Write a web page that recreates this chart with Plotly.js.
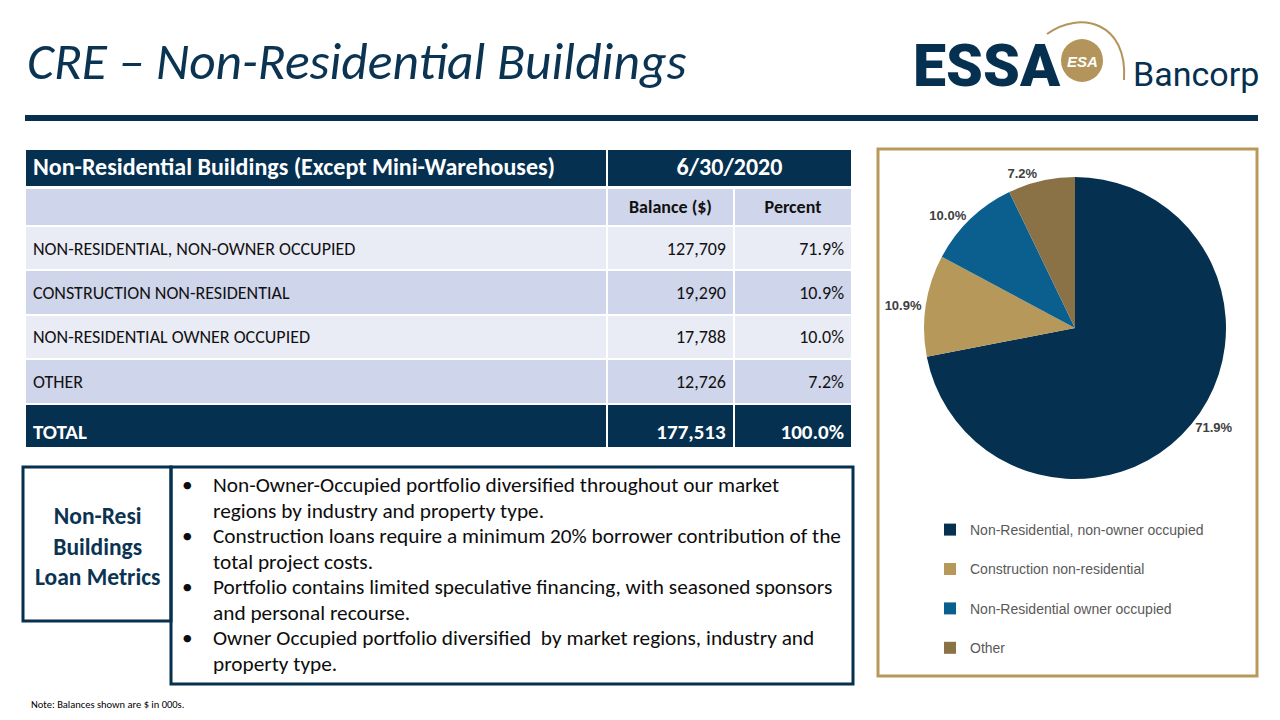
<!DOCTYPE html>
<html>
<head>
<meta charset="utf-8">
<script src="https://cdn.plot.ly/plotly-3.0.1.min.js"></script>
<style>html,body{margin:0;padding:0;background:#fff;}#chart{width:1280px;height:720px;}</style>
</head>
<body>
<div id="chart"></div>
<script>
// ---------- data ----------
const tableTitle = "Non-Residential Buildings (Except Mini-Warehouses)";
const tableDate = "6/30/2020";
const columnHeaders = ["", "Balance ($)", "Percent"];
const categories = ["NON-RESIDENTIAL, NON-OWNER OCCUPIED", "CONSTRUCTION NON-RESIDENTIAL", "NON-RESIDENTIAL OWNER OCCUPIED", "OTHER"];
const balances = [127709, 19290, 17788, 12726];
const percents = [71.9, 10.9, 10.0, 7.2];
const totalLabel = "TOTAL";
const totalBalance = 177513;
const totalPercent = 100.0;
const pieLabels = ["Non-Residential, non-owner occupied", "Construction non-residential", "Non-Residential owner occupied", "Other"];
const sliceColors = ["#06304f", "#b5985a", "#0a5f8f", "#8a7146"];
const bullets = [
  ["Non-Owner-Occupied portfolio diversified throughout our market", "regions by industry and property type."],
  ["Construction loans require a minimum 20% borrower contribution of the", "total project costs."],
  ["Portfolio contains limited speculative financing, with seasoned sponsors", "and personal recourse."],
  ["Owner Occupied portfolio diversified  by market regions, industry and", "property type."]
];

// ---------- helpers ----------
const W = 1280, H = 720;
const P = x => x / W;
const Q = y => 1 - y / H;
const NAVY = "#06304f";
const GOLD = "#b8995a";
const CLEAR = "rgba(0,0,0,0)";
const BODY = "Carlito, Lato, 'Open Sans', sans-serif";
const ARIAL = "'Liberation Sans', Arial, sans-serif";
const NB = "\u00a0";
const fmt = n => n.toLocaleString("en-US");

// ---------- table traces ----------
const topHeader = {
  type: "table",
  domain: {x: [P(25), P(852)], y: [Q(188), Q(149)]},
  columnwidth: [582, 245],
  header: {
    values: [tableTitle, tableDate],
    height: 38,
    align: ["left", "center"],
    fill: {color: NAVY},
    line: {color: "#ffffff", width: 2},
    font: {family: BODY, size: 24, color: "#ffffff", weight: "bold"}
  },
  cells: {values: [[], []], height: 0}
};

const rowFill = ["#e9ebf5", "#cfd5ea", "#e9ebf5", "#cfd5ea", NAVY];
const rowFont = ["#111111", "#111111", "#111111", "#111111", "#ffffff"];
const rowSize = [18, 18, 18, 18, 21];
const col1 = categories.concat(["<b>" + totalLabel + "</b>"]);
const col2 = balances.map(fmt).concat(["<b>" + fmt(totalBalance) + "</b>"]);
const col3 = percents.map(p => p.toFixed(1) + "%").concat(["<b>" + totalPercent.toFixed(1) + "%</b>"]);
const colWidths = [582, 127, 118];

// cell backgrounds + column headers
const bodyFill = {
  type: "table",
  domain: {x: [P(25), P(852)], y: [Q(449), Q(188)]},
  columnwidth: colWidths,
  header: {
    values: columnHeaders.map(h => h ? "<b>" + h + "</b>" : NB),
    height: 38,
    align: ["left", "center", "center"],
    fill: {color: "#cfd5ea"},
    line: {color: "#ffffff", width: 2},
    font: {family: BODY, size: 18, color: "#111111"}
  },
  cells: {
    values: [col1.map(() => NB), col2.map(() => NB), col3.map(() => NB)],
    height: 44.4,
    fill: {color: [rowFill, rowFill, rowFill]},
    line: {color: "#ffffff", width: 2}
  }
};

// cell texts, vertically centred in the rows drawn above
const bodyText = {
  type: "table",
  domain: {x: [P(25), P(852)], y: [Q(456), Q(195)]},
  columnwidth: colWidths,
  header: {
    values: [NB, NB, NB],
    height: 38,
    fill: {color: CLEAR},
    line: {color: CLEAR}
  },
  cells: {
    values: [col1, col2, col3],
    height: 44.4,
    align: ["left", "right", "right"],
    fill: {color: CLEAR},
    line: {color: CLEAR},
    font: {family: BODY, size: [rowSize, rowSize, rowSize], color: [rowFont, rowFont, rowFont]}
  }
};

// ---------- pie ----------
const pie = {
  type: "pie",
  values: balances,
  labels: pieLabels.map(l => l + "<br>" + NB),
  sort: false,
  direction: "clockwise",
  rotation: 0,
  marker: {colors: sliceColors, line: {width: 0}},
  texttemplate: "%{percent:.1%}",
  textposition: "outside",
  outsidetextfont: {family: ARIAL, size: 13, color: "#404040", weight: "bold"},
  domain: {x: [P(924), P(1226)], y: [Q(479), Q(177)]},
  hoverinfo: "percent",
  showlegend: true
};

// ---------- shapes ----------
const shapes = [
  {type: "rect", xref: "paper", yref: "paper", x0: P(25), x1: P(1258), y0: Q(121), y1: Q(115), fillcolor: NAVY, line: {width: 0}},
  {type: "rect", xref: "paper", yref: "paper", x0: P(878), x1: P(1257), y0: Q(676), y1: Q(149), fillcolor: CLEAR, line: {color: GOLD, width: 3}},
  {type: "rect", xref: "paper", yref: "paper", x0: P(23), x1: P(171), y0: Q(621), y1: Q(467), fillcolor: CLEAR, line: {color: NAVY, width: 3}},
  {type: "rect", xref: "paper", yref: "paper", x0: P(171), x1: P(853), y0: Q(684), y1: Q(467), fillcolor: CLEAR, line: {color: NAVY, width: 3}},
  {type: "circle", xref: "paper", yref: "paper", x0: P(1061), x1: P(1103), y0: Q(82), y1: Q(39), fillcolor: "#b3945a", line: {width: 0}},
  {type: "path", xref: "paper", yref: "paper",
   path: "M " + P(1047) + "," + Q(34) + " C " + P(1080) + "," + Q(10) + " " + P(1128) + "," + Q(22) + " " + P(1124) + "," + Q(80),
   line: {color: "#b3945a", width: 2}}
];

// ---------- annotations ----------
const ann = [];
function txt(text, x, y, size, color, opts) {
  ann.push(Object.assign({text: text, x: P(x), y: Q(y), xref: "paper", yref: "paper", showarrow: false,
    xanchor: "left", yanchor: "middle", align: "left",
    font: {family: BODY, size: size, color: color}}, opts || {}));
}
txt("CRE – Non-Residential Buildings", 25, 61, 51.5, "#0b3352", {font: {family: BODY, size: 51.5, color: "#0b3352", style: "italic"}});
txt("ESSA", 911, 65, 59, NAVY, {font: {family: "Roboto, 'Liberation Sans', sans-serif", size: 59, color: NAVY, weight: 900}});
txt("ESA", 1082, 61, 15, "#ffffff", {xanchor: "center", font: {family: ARIAL, size: 15, color: "#ffffff", weight: "bold", style: "italic"}});
txt("Bancorp", 1131, 74, 34, NAVY, {font: {family: "Roboto, 'Liberation Sans', sans-serif", size: 34, color: NAVY}});
txt("<b>Non-Resi<br>Buildings<br>Loan Metrics</b>", 97, 546, 23.5, "#0b3352", {xanchor: "center", align: "center"});
let lineY = 485;
bullets.forEach(b => {
  txt("•", 180, lineY, 21.3, "#0d0d0d");
  txt(b[0], 211, lineY, 21.3, "#0d0d0d");
  txt(b[1], 211, lineY + 25.5, 21.3, "#0d0d0d");
  lineY += 51;
});
txt("Note: Balances shown are $ in 000s.", 29, 704, 10.5, "#000000");

const layout = {
  width: W, height: H,
  margin: {l: 0, r: 0, t: 0, b: 0},
  paper_bgcolor: "#ffffff",
  plot_bgcolor: "#ffffff",
  showlegend: true,
  legend: {x: P(930), xanchor: "left", y: Q(514), yanchor: "top", valign: "top",
    font: {family: ARIAL, size: 14, color: "#595959"}, bgcolor: CLEAR, tracegroupgap: 0},
  shapes: shapes,
  annotations: ann
};

Plotly.newPlot("chart", [topHeader, bodyFill, bodyText, pie], layout, {displayModeBar: false, staticPlot: true});
</script>
</body>
</html>
